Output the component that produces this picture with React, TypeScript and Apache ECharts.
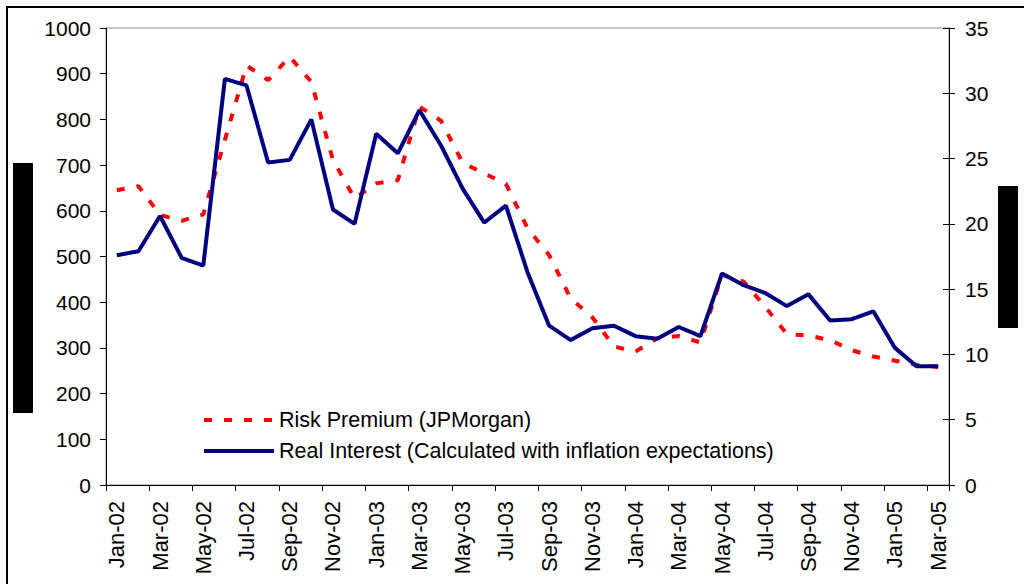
import React, { useEffect, useRef } from "react";
import * as echarts from "echarts";

const months = [
  "Jan-02", "Feb-02", "Mar-02", "Apr-02", "May-02", "Jun-02", "Jul-02", "Aug-02", "Sep-02", "Oct-02", "Nov-02", "Dec-02",
  "Jan-03", "Feb-03", "Mar-03", "Apr-03", "May-03", "Jun-03", "Jul-03", "Aug-03", "Sep-03", "Oct-03", "Nov-03", "Dec-03",
  "Jan-04", "Feb-04", "Mar-04", "Apr-04", "May-04", "Jun-04", "Jul-04", "Aug-04", "Sep-04", "Oct-04", "Nov-04", "Dec-04",
  "Jan-05", "Feb-05", "Mar-05",
];

const riskPremium = [
  645, 654, 591, 578, 592, 755, 918, 886, 937, 882, 711, 627,
  660, 667, 828, 797, 705, 682, 659, 562, 503, 408, 367, 303,
  292, 321, 326, 312, 460, 445, 390, 330, 327, 317, 295, 281,
  272, 263, 258,
];

const realInterest = [
  17.6, 17.9, 20.6, 17.4, 16.8, 31.1, 30.6, 24.7, 24.9, 28.0, 21.1, 20.0,
  26.9, 25.4, 28.7, 26.0, 22.7, 20.1, 21.4, 16.3, 12.2, 11.1, 12.0, 12.2,
  11.4, 11.2, 12.1, 11.4, 16.2, 15.3, 14.7, 13.7, 14.6, 12.6, 12.7, 13.3,
  10.5, 9.1, 9.1,
];

const seriesNames = ["Risk Premium (JPMorgan)", "Real Interest (Calculated with inflation expectations)"];

const FONT = "'Liberation Sans', Arial, sans-serif";

export default function App() {
  const ref = useRef<HTMLDivElement>(null);

  useEffect(() => {
    if (!ref.current) return;
    const chart = echarts.init(ref.current, undefined, { renderer: "svg" });
    const axisLabelStyle = { color: "#000", fontSize: 21, fontFamily: FONT };
    chart.setOption({
      animation: false,
      backgroundColor: "#fff",
      grid: {
        left: 106,
        right: 75,
        top: 28,
        bottom: 99,
        show: true,
        borderColor: "#8c8c8c",
        borderWidth: 1,
        backgroundColor: "transparent",
      },
      legend: {
        orient: "vertical",
        left: 197,
        top: 404,
        itemWidth: 70,
        itemHeight: 14,
        itemGap: 9,
        itemStyle: { opacity: 0 },
        lineStyle: { width: 4 },
        textStyle: { color: "#000", fontSize: 21.5, fontFamily: FONT },
        data: seriesNames,
      },
      xAxis: {
        type: "category",
        data: months,
        boundaryGap: true,
        axisLine: { lineStyle: { color: "#000", width: 1 } },
        axisTick: { show: true, interval: 1, length: 6, lineStyle: { color: "#000" } },
        axisLabel: { ...axisLabelStyle, fontSize: 22, rotate: 90, interval: 1, margin: 16 },
        splitLine: { show: false },
      },
      yAxis: [
        {
          type: "value",
          position: "left",
          min: 0,
          max: 1000,
          interval: 100,
          axisLine: { show: true, lineStyle: { color: "#000" } },
          axisTick: { show: true, length: 6, lineStyle: { color: "#000" } },
          axisLabel: { ...axisLabelStyle, margin: 15, formatter: (v: number) => String(v) },
          splitLine: { show: false },
        },
        {
          type: "value",
          position: "right",
          min: 0,
          max: 35,
          interval: 5,
          axisLine: { show: true, lineStyle: { color: "#000" } },
          axisTick: { show: true, length: 6, lineStyle: { color: "#000" } },
          axisLabel: { ...axisLabelStyle, margin: 16 },
          splitLine: { show: false },
        },
        {
          type: "value",
          position: "right",
          min: 0,
          max: 35,
          interval: 5,
          axisLine: { show: false },
          axisTick: { show: true, inside: true, length: 6, lineStyle: { color: "#000" } },
          axisLabel: { show: false },
          splitLine: { show: false },
        },
      ],
      series: [
        {
          name: seriesNames[0],
          type: "line",
          yAxisIndex: 0,
          data: riskPremium,
          symbol: "none",
          lineStyle: { color: "#ff0000", width: 4, type: [8, 12] },
          itemStyle: { color: "#ff0000" },
          z: 2,
        },
        {
          name: seriesNames[1],
          type: "line",
          yAxisIndex: 1,
          data: realInterest,
          symbol: "none",
          lineStyle: { color: "#000080", width: 4 },
          itemStyle: { color: "#000080" },
          z: 3,
        },
      ],
      graphic: [
        {
          type: "rect",
          shape: { x: 7, y: 7, width: 1040, height: 600 },
          style: { fill: "none", stroke: "#000", lineWidth: 2 },
          silent: true,
        },
        {
          type: "rect",
          shape: { x: 13, y: 163, width: 20, height: 250 },
          style: { fill: "#000" },
          silent: true,
        },
        {
          type: "rect",
          shape: { x: 998, y: 186, width: 20, height: 142 },
          style: { fill: "#000" },
          silent: true,
        },
      ],
    });
    return () => chart.dispose();
  }, []);

  return (
    <div
      ref={ref}
      style={{ position: "fixed", left: 0, top: 0, width: 1024, height: 584, background: "#fff" }}
    />
  );
}
